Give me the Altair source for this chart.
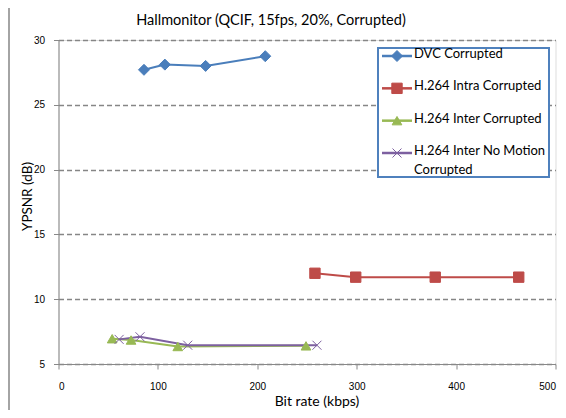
import altair as alt
import pandas as pd

title_text = "Hallmonitor (QCIF, 15fps,  20%, Corrupted)"
series = ["DVC Corrupted", "H.264 Intra Corrupted", "H.264 Inter Corrupted",
          "H.264 Inter No Motion Corrupted"]
legend_labels = ["DVC Corrupted", "H.264 Intra Corrupted", "H.264 Inter Corrupted",
                 "H.264 Inter No Motion\nCorrupted"]
colors = ["#4A7EBB", "#BE4B48", "#98B954", "#7D60A0"]
shapes = ["diamond", "square", "triangle-up", "M-1,-1L1,1M-1,1L1,-1"]
sizes = [121, 81, 100, 70]
widths = [1, 1, 1, 2]

dvc_rate = [86, 107, 148, 208]
dvc_psnr = [27.7, 28.1, 28.0, 28.75]
intra_rate = [258, 299, 379, 463]
intra_psnr = [12.0, 11.7, 11.7, 11.7]
inter_rate = [54, 73, 120, 249]
inter_psnr = [6.95, 6.85, 6.35, 6.4]
nomo_rate = [61, 82, 130, 260]
nomo_psnr = [6.9, 7.1, 6.45, 6.45]

x_ticks = [0, 100, 200, 300, 400, 500]
y_ticks = [5, 10, 15, 20, 25, 30]

rows = []
for name, rates, vals in zip(series,
                             [dvc_rate, intra_rate, inter_rate, nomo_rate],
                             [dvc_psnr, intra_psnr, inter_psnr, nomo_psnr]):
    for r, v in zip(rates, vals):
        rows.append({"series": name, "rate": r, "psnr": v})
df = pd.DataFrame(rows)
leg_df = pd.DataFrame({"series": series, "row": list(range(len(series))),
                       "label": legend_labels})

FONT = "Lato"
GRAY = "#868686"

color_scale = alt.Scale(domain=series, range=colors)
shape_scale = alt.Scale(domain=series, range=shapes)
size_scale = alt.Scale(domain=series, range=sizes)
sw_scale = alt.Scale(domain=series, range=widths)
y_scale = alt.Scale(domain=[5, 30])
leg_y = alt.Y("row:Q", scale=alt.Scale(domain=[0, 3], range=[16, 113]), axis=None)

x_enc = alt.X("rate:Q", scale=alt.Scale(domain=[0, 500]),
              axis=alt.Axis(values=x_ticks, title="Bit rate (kbps)", grid=False,
                            tickSize=5, labelPadding=12, titleX=258, titleY=37,
                            titleBaseline="middle", titleFontWeight="normal",
                            titleFont=FONT, titleFontSize=14, titleColor="#000000"))
y_enc = alt.Y("psnr:Q", scale=y_scale,
              axis=alt.Axis(values=y_ticks, title="YPSNR (dB)", grid=True,
                            gridDash=[5, 3], gridColor=GRAY, gridWidth=1.5,
                            tickSize=5, labelPadding=9, titleX=-31, titleY=156,
                            titleAngle=270, titleAlign="center",
                            titleBaseline="middle", titleFontWeight="normal",
                            titleFont=FONT, titleFontSize=13.5, titleColor="#000000"))

lines = alt.Chart(df).mark_line(strokeWidth=2).encode(
    x=x_enc, y=y_enc,
    color=alt.Color("series:N", scale=color_scale, legend=None),
    detail="series:N",
)

def marker_enc():
    return dict(
        color=alt.Color("series:N", scale=color_scale, legend=None),
        shape=alt.Shape("series:N", scale=shape_scale, legend=None),
        stroke=alt.Stroke("series:N", scale=color_scale, legend=None),
        size=alt.Size("series:N", scale=size_scale, legend=None),
        strokeWidth=alt.StrokeWidth("series:N", scale=sw_scale, legend=None),
    )

points = alt.Chart(df).mark_point(filled=True, opacity=1).encode(
    x="rate:Q", y=alt.Y("psnr:Q", scale=y_scale, axis=None), **marker_enc()
)

frame = alt.Chart(alt.Data(values=[{}])).mark_rect(
    fillOpacity=0, stroke=GRAY, strokeWidth=1.5
).encode(x=alt.value(-49.5), x2=alt.value(700), y=alt.value(-36), y2=alt.value(600))

title = alt.Chart(alt.Data(values=[{"t": title_text}])).mark_text(
    font=FONT, fontSize=14.5, color="#000000", align="center", baseline="middle"
).encode(x=alt.value(212.5), y=alt.value(-19), text="t:N")

leg_box = alt.Chart(alt.Data(values=[{}])).mark_rect(
    fill="white", stroke="#4F81BD", strokeWidth=2
).encode(x=alt.value(319.5), x2=alt.value(490.5), y=alt.value(8), y2=alt.value(137))

leg_lines = alt.Chart(leg_df).mark_rule(strokeWidth=2.5).encode(
    x=alt.value(323.5), x2=alt.value(353.5), y=leg_y,
    color=alt.Color("series:N", scale=color_scale, legend=None),
)
leg_marks = alt.Chart(leg_df).mark_point(filled=True, opacity=1).encode(
    x=alt.value(338.5), y=leg_y, **marker_enc()
)
leg_text = alt.Chart(leg_df).mark_text(
    align="left", baseline="top", dy=-8, font=FONT, fontSize=13,
    lineBreak="\n", lineHeight=19, color="#000000"
).encode(x=alt.value(355.5), y=leg_y, text="label:N")

chart = alt.layer(frame, title, lines, points, leg_box, leg_lines, leg_marks, leg_text).resolve_scale(
    y="independent"
).properties(
    width=497, height=324,
    autosize=alt.AutoSizeParams(type="none"),
    padding={"left": 50.5, "top": 32, "right": 2.5, "bottom": 46},
).configure_view(
    stroke=GRAY, strokeWidth=1.5
).configure_axis(
    labelFont=FONT, labelFontSize=13, labelColor="#000000",
    domainColor=GRAY, domainWidth=2, tickColor=GRAY, tickWidth=1.5,
).configure(background="white")

chart.save("out.html", embed_options={"renderer": "svg", "actions": False})
